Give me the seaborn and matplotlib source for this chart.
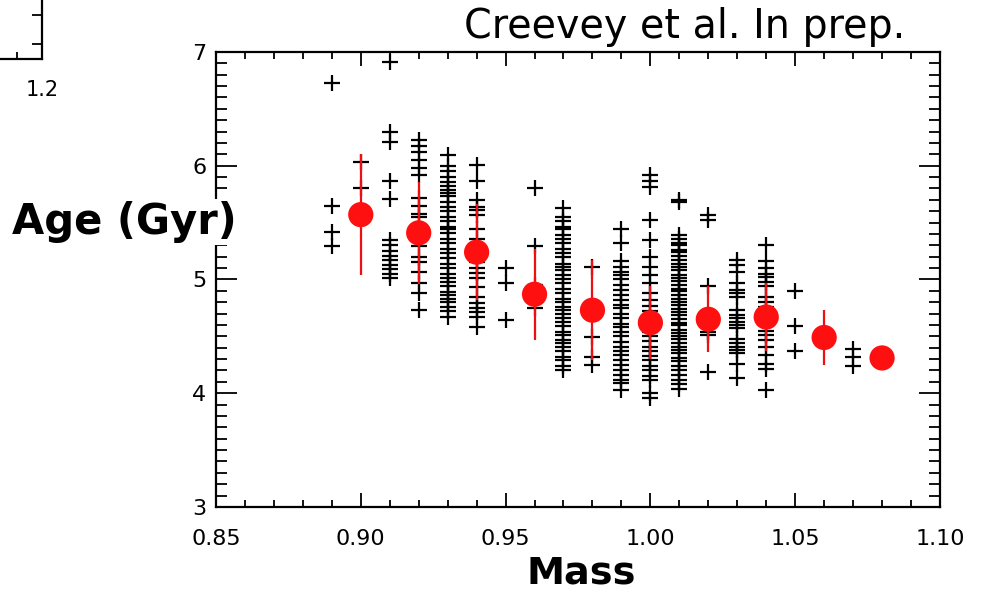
import numpy as np
import pandas as pd
import matplotlib
matplotlib.use("Agg")
import matplotlib.pyplot as plt
import seaborn as sns
from matplotlib.ticker import MultipleLocator, FixedLocator

# ---------------- data ----------------
mass_columns = [0.89, 0.90, 0.91, 0.92, 0.93, 0.94, 0.95, 0.96, 0.97, 0.98,
                0.99, 1.00, 1.01, 1.02, 1.03, 1.04, 1.05, 1.07]
age_m089 = [6.73, 5.65, 5.42, 5.29]
age_m090 = [6.03, 5.80]
age_m091 = [6.91, 6.30, 6.21, 5.87, 5.71, 5.35, 5.30, 5.25, 5.21, 5.17, 5.13, 5.09, 5.05, 5.01]
age_m092 = [6.23, 6.17, 6.12, 6.05, 5.98, 5.92, 5.72, 5.65, 5.58, 5.55, 5.44, 5.29, 5.20,
            5.15, 5.07, 4.97, 4.88, 4.73]
age_m093 = [6.09, 6.00, 5.95, 5.90, 5.86, 5.82, 5.79, 5.76, 5.73, 5.68, 5.64, 5.60, 5.55,
            5.51, 5.46, 5.44, 5.41, 5.36, 5.32, 5.27, 5.23, 5.19, 5.14, 5.10, 5.05, 5.01,
            4.98, 4.94, 4.89, 4.86, 4.83, 4.80, 4.76, 4.72, 4.67]
age_m094 = [6.01, 5.87, 5.70, 5.64, 5.61, 5.57, 5.44, 5.36, 5.28, 5.22, 5.15, 5.10, 5.06,
            5.01, 4.93, 4.85, 4.79, 4.75, 4.71, 4.67, 4.58]
age_m095 = [5.10, 4.97, 4.64]
age_m096 = [5.80, 5.29, 4.95, 4.75]
age_m097 = [5.63, 5.55, 5.51, 5.46, 5.44, 5.39, 5.36, 5.32, 5.27, 5.23, 5.20, 5.14, 5.11,
            5.08, 5.04, 5.00, 4.97, 4.92, 4.88, 4.83, 4.80, 4.76, 4.73, 4.70, 4.66, 4.63,
            4.59, 4.54, 4.51, 4.47, 4.44, 4.41, 4.37, 4.32, 4.29, 4.24, 4.20]
age_m098 = [5.11, 4.49, 4.32, 4.25]
age_m099 = [5.44, 5.32, 5.16, 5.11, 5.07, 5.04, 5.00, 4.95, 4.91, 4.86, 4.82, 4.78, 4.75,
            4.70, 4.66, 4.61, 4.58, 4.54, 4.50, 4.45, 4.41, 4.37, 4.34, 4.29, 4.25, 4.20,
            4.16, 4.12, 4.09, 4.03]
age_m100 = [5.92, 5.87, 5.81, 5.52, 5.35, 5.20, 5.11, 5.04, 4.97, 4.88, 4.82, 4.77, 4.72,
            4.67, 4.62, 4.58, 4.54, 4.50, 4.46, 4.41, 4.37, 4.33, 4.29, 4.24, 4.20, 4.15,
            4.12, 4.00, 3.96]
age_m101 = [5.70, 5.68, 5.39, 5.36, 5.32, 5.30, 5.26, 5.24, 5.21, 5.17, 5.14, 5.11, 5.08,
            5.04, 5.01, 4.99, 4.95, 4.92, 4.90, 4.86, 4.83, 4.80, 4.78, 4.74, 4.71, 4.69,
            4.65, 4.62, 4.60, 4.56, 4.53, 4.50, 4.48, 4.44, 4.41, 4.38, 4.35, 4.31, 4.28,
            4.24, 4.20, 4.16, 4.12, 4.08, 4.04]
age_m102 = [5.57, 5.52, 4.94, 4.54, 4.51, 4.19]
age_m103 = [5.17, 5.13, 5.07, 4.97, 4.91, 4.88, 4.85, 4.73, 4.69, 4.66, 4.63, 4.60, 4.57,
            4.48, 4.44, 4.41, 4.38, 4.35, 4.26, 4.13]
age_m104 = [5.30, 5.16, 5.10, 5.05, 5.02, 4.98, 4.94, 4.85, 4.80, 4.76, 4.64, 4.55, 4.51,
            4.47, 4.41, 4.34, 4.26, 4.21, 4.03]
age_m105 = [4.90, 4.59, 4.37]
age_m107 = [4.39, 4.32, 4.24]
age_columns = [age_m089, age_m090, age_m091, age_m092, age_m093, age_m094, age_m095,
               age_m096, age_m097, age_m098, age_m099, age_m100, age_m101, age_m102,
               age_m103, age_m104, age_m105, age_m107]

mean_mass = [0.90, 0.92, 0.94, 0.96, 0.98, 1.00, 1.02, 1.04, 1.06, 1.08]
mean_age = [5.57, 5.41, 5.24, 4.87, 4.73, 4.62, 4.65, 4.67, 4.49, 4.31]
mean_err = [0.53, 0.45, 0.42, 0.40, 0.44, 0.32, 0.29, 0.30, 0.24, 0.0]

x_ticks = [0.85, 0.90, 0.95, 1.00, 1.05, 1.10]
x_tick_labels = ["0.85", "0.90", "0.95", "1.00", "1.05", "1.10"]
y_ticks = [3, 4, 5, 6, 7]
y_tick_labels = ["3", "4", "5", "6", "7"]

title_text = "Creevey et al. In prep."
x_label = "Mass"
y_label = "Age (Gyr)"

# ---------------- figure ----------------
sns.set_style("white")
plt.rcParams['font.family'] = ['DejaVu Sans']
plt.rcParams['text.color'] = 'black'
plt.rcParams['xtick.color'] = 'black'
plt.rcParams['ytick.color'] = 'black'
plt.rcParams['axes.labelcolor'] = 'black'

fig = plt.figure(figsize=(9.88, 5.94), dpi=100)
ax = fig.add_axes([0.2186, 0.1465, 0.9514 - 0.2186, 0.9125 - 0.1465])

pts = pd.DataFrame({
    "mass": [m for m, ages in zip(mass_columns, age_columns) for _ in ages],
    "age": [a for ages in age_columns for a in ages],
})
means = pd.DataFrame({"mass": mean_mass, "age": mean_age, "err": mean_err})

sns.scatterplot(data=pts, x="mass", y="age", marker="+", color="black",
                s=140, linewidth=1.6, ax=ax, zorder=2, legend=False)
eb = means[means["err"] > 0]
ax.errorbar(eb["mass"], eb["age"], yerr=eb["err"], fmt="none",
            ecolor="#ee1010", elinewidth=1.6, capsize=0, zorder=3)
sns.scatterplot(data=means, x="mass", y="age", color="#ff1010", s=330,
                edgecolor="none", linewidth=0, ax=ax, zorder=4, legend=False)

ax.set_xlim(0.85, 1.10)
ax.set_ylim(3, 7)
ax.set_xticks(x_ticks)
ax.set_xticklabels(x_tick_labels)
ax.set_yticks(y_ticks)
ax.set_yticklabels(y_tick_labels)
ax.xaxis.set_minor_locator(MultipleLocator(0.01))
ax.yaxis.set_minor_locator(MultipleLocator(0.1))
ax.tick_params(axis="both", which="both", direction="in", top=True, right=True,
               bottom=True, left=True, color="black", width=1.3)
ax.tick_params(axis="x", which="major", length=10, labelsize=16, pad=16)
ax.tick_params(axis="x", which="minor", length=5)
ax.tick_params(axis="y", which="major", length=15, labelsize=16, pad=7)
ax.tick_params(axis="y", which="minor", length=8)
for sp in ax.spines.values():
    sp.set_visible(True)
    sp.set_linewidth(1.6)
    sp.set_color("black")
ax.set_xlabel("")
ax.set_ylabel("")

fig.text(0.5885, 0.035, x_label, fontsize=27.5, fontweight="bold", ha="center", va="center")
fig.text(0.012, 0.626, y_label, fontsize=30, fontweight="bold", ha="left", va="center",
         bbox=dict(facecolor="white", edgecolor="none", pad=1.5), zorder=10)
fig.text(0.916, 0.955, title_text, fontsize=28.5, ha="right", va="center")

# fragment of a neighbouring panel in the top-left corner
ax2 = fig.add_axes([-0.06, 0.9007, 0.0425 + 0.06, 0.2])
ax2.set_xlim(1.1, 1.2)
ax2.set_ylim(0, 1)
for side in ["top", "left"]:
    ax2.spines[side].set_visible(False)
for side in ["right", "bottom"]:
    ax2.spines[side].set_linewidth(1.6)
    ax2.spines[side].set_color("black")
ax2.set_xticks([1.2])
ax2.set_xticklabels(["1.2"])
ax2.xaxis.set_minor_locator(FixedLocator([1.175]))
ax2.set_yticks([])
ax2.yaxis.set_minor_locator(FixedLocator([0.13, 0.37, 0.61, 0.85]))
ax2.tick_params(axis="x", which="both", direction="in", bottom=True, top=False,
                labelsize=15, pad=15, width=1.3)
ax2.tick_params(axis="x", which="major", length=0)
ax2.tick_params(axis="x", which="minor", length=5)
ax2.tick_params(axis="y", which="both", direction="in", left=False, right=True,
                length=7, width=1.3)
ax2.patch.set_alpha(0)

fig.savefig("out.png", dpi=100)
